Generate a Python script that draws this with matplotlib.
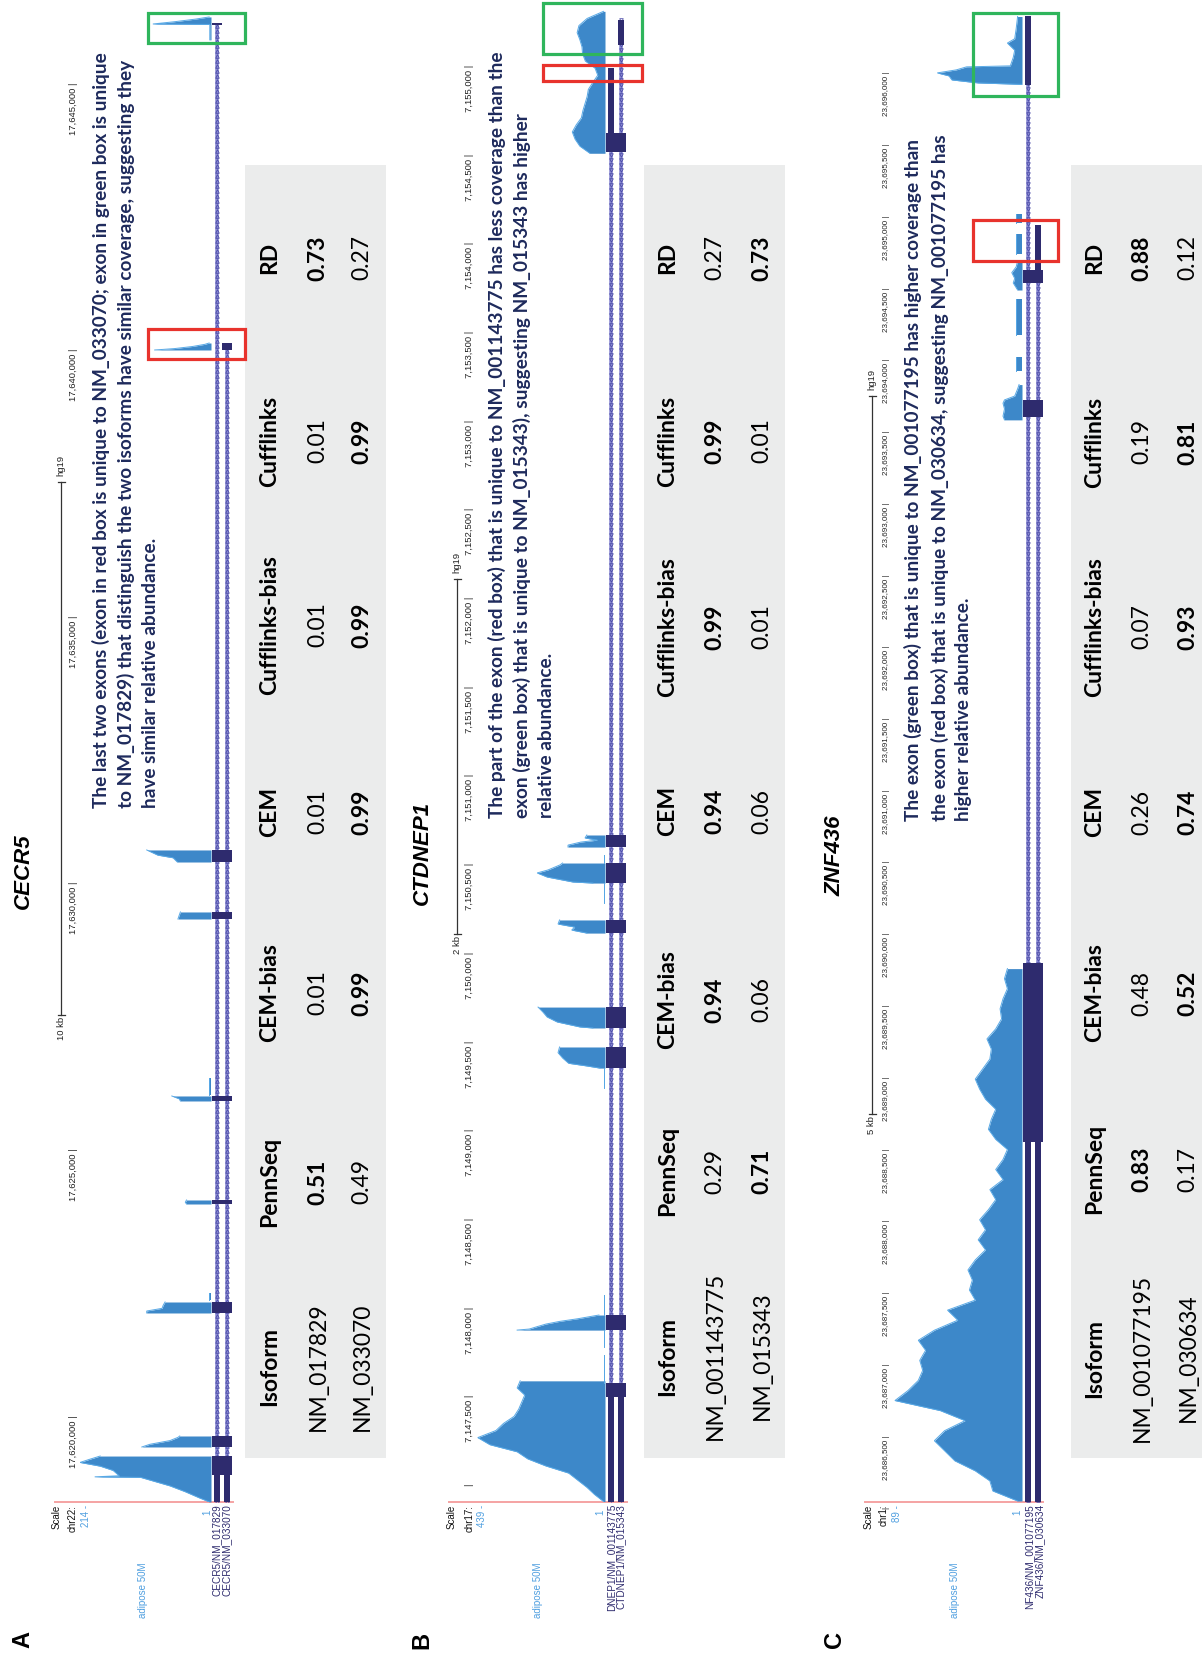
import numpy as np
import matplotlib
matplotlib.use("Agg")
import matplotlib.pyplot as plt
from matplotlib.patches import Rectangle
from matplotlib.transforms import blended_transform_factory as blend, offset_copy

# ----------------------------------------------------------------- data
methods = ["PennSeq", "CEM-bias", "CEM", "Cufflinks-bias", "Cufflinks", "RD"]

# ---- CECR5 (chr22, hg19)
A_gene = "CECR5"
A_view = (17618368, 17646538)
A_ticks = [17620000, 17625000, 17630000, 17635000, 17640000, 17645000]
A_scalebar = (17627500, 17637500, "10 kb")
A_cov_max = 214
A_track_names = ["CECR5/NM_017829", "CECR5/NM_033070"]
A_shared_exons = [(17618875, 17619231), (17619400, 17619606), (17621913, 17622119),
                  (17623957, 17624032), (17625889, 17625983), (17629302, 17629434),
                  (17630371, 17630597)]
A_iso1_tx = (17618300, 17646110)
A_iso1_last = [(17646060, 17646110)]
A_iso1_utr = [(17618300, 17618875)]
A_iso2_tx = (17618300, 17640105)
A_iso2_last = [(17639974, 17640105)]
A_iso2_utr = [(17618300, 17618875)]
A_cov_pos = [
    [17618370, 17618450, 17618560, 17618670, 17618780, 17618830, 17618840, 17618860,
     17618960, 17619040, 17619110, 17619170, 17619230],
    [17619400, 17619450, 17619520, 17619580, 17619606],
    [17621913, 17621950, 17622000, 17622060, 17622119],
    [17622157, 17622288],
    [17623957, 17623990, 17624032],
    [17625889, 17625930, 17625983],
    [17626002, 17626320],
    [17629302, 17629370, 17629434],
    [17630371, 17630450, 17630500, 17630570, 17630597],
    [17639974, 17640000, 17640040, 17640080, 17640105],
    [17645790, 17646080, 17646088, 17646130, 17646180, 17646220],
]
A_cov_val = [
    [3, 20, 42, 67, 100, 115, 190, 150, 160, 181, 214, 198, 181],
    [113, 100, 67, 54, 51],
    [105, 105, 80, 78, 75],
    [3, 3],
    [40, 42, 40],
    [50, 52, 64],
    [3, 3],
    [54, 52, 50],
    [55, 62, 87, 100, 105],
    [92, 60, 30, 10, 3],
    [2, 2, 95, 60, 25, 3],
]
A_red = (17639805, 17640368)
A_green = (17645732, 17646295)
A_isoforms = ["NM_017829", "NM_033070"]
A_estimates = [[0.51, 0.49], [0.01, 0.99], [0.01, 0.99], [0.01, 0.99], [0.01, 0.99], [0.73, 0.27]]
A_note = ["The last two exons (exon in red box is unique to NM_033070; exon in green box is unique",
          "to NM_017829) that distinguish the two isoforms have similar coverage, suggesting they",
          "have similar relative abundance."]

# ---- CTDNEP1 (chr17, hg19)
B_gene = "CTDNEP1"
B_view = (7146897, 7155364)
B_ticks = list(range(7147000, 7155001, 500))
B_scalebar = (7150100, 7152100, "2 kb")
B_cov_max = 439
B_track_names = ["DNEP1/NM_001143775", "CTDNEP1/NM_015343"]
B_shared_exons = [(7147489, 7147568), (7147866, 7147951), (7149343, 7149462), (7149569, 7149687),
                  (7150104, 7150178), (7150386, 7150499), (7150589, 7150657), (7154507, 7154614)]
B_iso1_tx = (7146850, 7154980)
B_iso1_last = []
B_iso1_utr = [(7146850, 7147489), (7154614, 7154980)]
B_iso2_tx = (7146850, 7155251)
B_iso2_last = []
B_iso2_utr = [(7146850, 7147489), (7155110, 7155251)]
B_bin_start = [7146900, 7154500]
B_bin_size = 40
B_bin_val = [
    [5, 35, 60, 90, 120, 195, 255, 290, 380, 420, 360, 335, 300, 285, 275, 265, 290, 280],
    [50, 83, 99, 108, 95, 78, 73, 66, 59, 55, 40, 24, 33, 65, 74, 76, 83, 92, 86, 59, 5],
]
B_cov_pos = [
    [7147866, 7147872, 7147885, 7147900, 7147915, 7147930, 7147951],
    [7149343, 7149355, 7149370, 7149400, 7149430, 7149462],
    [7149569, 7149575, 7149603, 7149631, 7149659, 7149687],
    [7150104, 7150121, 7150138, 7150155, 7150178],
    [7150386, 7150392, 7150420, 7150443, 7150460, 7150488, 7150499],
    [7150589, 7150600, 7150617, 7150628, 7150640, 7150657],
    [7147568, 7147725], [7147771, 7147866], [7147951, 7148064],
    [7149231, 7149343], [7150273, 7150386], [7150499, 7150544],
]
B_cov_val = [
    [290, 250, 225, 195, 150, 90, 20],
    [17, 60, 120, 140, 155, 150],
    [40, 83, 158, 191, 205, 221],
    [60, 110, 100, 155, 150],
    [40, 106, 191, 224, 188, 149, 140],
    [122, 122, 80, 25, 66, 60],
    [4, 4], [4, 4], [4, 4], [4, 4], [4, 4], [4, 4],
]
B_red = (7154907, 7154997)
B_green = (7155059, 7155347)
B_isoforms = ["NM_001143775", "NM_015343"]
B_estimates = [[0.29, 0.71], [0.94, 0.06], [0.94, 0.06], [0.99, 0.01], [0.99, 0.01], [0.27, 0.73]]
B_note = ["The part of the exon (red box) that is unique to NM_001143775 has less coverage than the",
          "exon (green box) that is unique to NM_015343), suggesting NM_015343 has higher",
          "relative abundance."]

# ---- ZNF436 (chr1, hg19)
C_gene = "ZNF436"
C_view = (23686033, 23696500)
C_ticks = list(range(23686000, 23696001, 500))
C_scalebar = (23688737, 23693737, "5 kb")
C_cov_max = 89
C_track_names = ["NF436/NM_001077195", "ZNF436/NM_030634"]
C_shared_exons = [(23688542, 23689789), (23693594, 23693713), (23694528, 23694619)]
C_iso1_tx = (23685950, 23696389)
C_iso1_last = []
C_iso1_utr = [(23685950, 23688542), (23695908, 23696389)]
C_iso2_tx = (23685950, 23694932)
C_iso2_last = []
C_iso2_utr = [(23685950, 23688542), (23694619, 23694932)]
C_bin_start = [23686040]
C_bin_size = 70
C_bin_val = [
    [3, 20, 22, 32, 46, 53, 60, 53, 39, 56, 87, 78, 71, 68, 70, 66, 71, 60, 44, 51,
     32, 36, 34, 37, 32, 25, 30, 25, 29, 23, 18, 22, 13, 18, 13, 10, 18, 23, 21, 18,
     25, 29, 32, 27, 22, 21, 24, 18, 14, 15, 13, 10, 12, 10],
]
C_cov_pos = [
    [23693574, 23693600, 23693650, 23693690, 23693713, 23693740, 23693790, 23693820],
    [23694479, 23694528, 23694560, 23694600, 23694640, 23694682],
    [23695912, 23695922, 23695943, 23695971, 23695992, 23696013, 23696034, 23696041,
     23696100, 23696150, 23696200, 23696230, 23696300, 23696385],
    [23693915, 23694013], [23694166, 23694417], [23694730, 23694870], [23694946, 23695009],
]
C_cov_val = [
    [12, 13, 12, 13, 12, 5, 3, 2],
    [3, 6, 5, 7, 4, 3],
    [0, 30, 48, 50, 58, 45, 38, 8, 6, 5, 10, 5, 4, 3],
    [4, 4], [4, 4], [4, 4], [4, 4],
]
C_red = (23694682, 23694967)
C_green = (23695831, 23696410)
C_isoforms = ["NM_001077195", "NM_030634"]
C_estimates = [[0.83, 0.17], [0.48, 0.52], [0.26, 0.74], [0.07, 0.93], [0.19, 0.81], [0.88, 0.12]]
C_note = ["The exon (green box) that is unique to NM_001077195 has higher coverage than",
          "the exon (red box) that is unique to NM_030634, suggesting NM_001077195 has",
          "higher relative abundance."]

# ----------------------------------------------------------------- style
NAVY = "#2e2b6e"
BLUE = "#3d88c9"
BLUE_EDGE = "#58a9e6"
LBLUE = "#4f9fe0"
INTRON = "#8b8bd3"
CHEV = "#4c4ca8"
PINK = "#f5a3a3"
NOTE = "#1e2a5c"
GRAY = "#ebecec"
RED = "#e8332d"
GREEN = "#2fb55c"
UCSC_FONT = "Liberation Sans"
BODY_FONT = "Lato"

W, H = 1202, 1655
fig = plt.figure(figsize=(W / 100, H / 100), dpi=100)
base = fig.add_axes([0, 0, 1, 1], zorder=0)
base.set_xlim(0, W); base.set_ylim(H, 0); base.axis("off")
over = fig.add_axes([0, 0, 1, 1], zorder=10)
over.set_xlim(0, W); over.set_ylim(H, 0); over.axis("off"); over.set_facecolor("none")


def pixel_axes(x0, x1, y0, y1, z=2):
    ax = fig.add_axes([x0 / W, 1 - y1 / H, (x1 - x0) / W, (y1 - y0) / H], zorder=z)
    ax.set_facecolor("none")
    ax.axis("off")
    return ax


def vtext(x, y, s, ha="center", va="center", transform=None, **kw):
    return base.text(x, y, s, rotation=90, rotation_mode="anchor", ha=ha, va=va,
                     transform=transform if transform is not None else base.transData, **kw)


def bins_to_segments(starts, size, values):
    pos, val = [], []
    for s, v in zip(starts, values):
        pos.append(list(s + size * np.arange(len(v))))
        val.append(v)
    return pos, val


panels = []
for key in "ABC":
    g = globals()
    cov_pos = list(g[key + "_cov_pos"])
    cov_val = list(g[key + "_cov_val"])
    if key + "_bin_start" in g:
        p, v = bins_to_segments(g[key + "_bin_start"], g[key + "_bin_size"], g[key + "_bin_val"])
        cov_pos += p
        cov_val += v
    panels.append(dict(
        key=key, gene=g[key + "_gene"], view=g[key + "_view"], ticks=g[key + "_ticks"],
        scalebar=g[key + "_scalebar"], cov_max=g[key + "_cov_max"],
        track_names=g[key + "_track_names"],
        isoforms=[
            dict(tx=g[key + "_iso1_tx"], thick=g[key + "_shared_exons"] + g[key + "_iso1_last"],
                 thin=g[key + "_iso1_utr"]),
            dict(tx=g[key + "_iso2_tx"], thick=g[key + "_shared_exons"] + g[key + "_iso2_last"],
                 thin=g[key + "_iso2_utr"]),
        ],
        cov_pos=cov_pos, cov_val=cov_val, red=g[key + "_red"], green=g[key + "_green"],
        iso_names=g[key + "_isoforms"], estimates=g[key + "_estimates"], note=g[key + "_note"],
    ))

layouts = {
    "A": dict(cov_x=(80, 211), gene_x=(211, 233), tick_x=73, tick_fs=6.8, bar_x=61,
              scale_x=62, chr_x=74, max_x=86, one_x=207, adi_x=143, name_x=(217, 227),
              pink=(55, 233), chr_label="chr22:", title=(23, 871), letter=(23, 1640),
              box_x=(148, 245), note_x=(101, 126, 151), note_y=808,
              table_x=(245, 386), head_x=270, row_x=(318, 362),
              col_y=[1367, 1182, 993, 812, 625, 441, 258], strand="^"),
    "B": dict(cov_x=(472, 605), gene_x=(605, 627), tick_x=469, tick_fs=6.8, bar_x=457,
              scale_x=457, chr_x=471, max_x=482, one_x=600, adi_x=538, name_x=(611, 621),
              pink=(449, 627), chr_label="chr17:", title=(422, 853), letter=(422, 1640),
              box_x=(543, 642), note_x=(497, 522, 547), note_y=818,
              table_x=(644, 785), head_x=668, row_x=(715, 762),
              col_y=[1356, 1171, 1000, 811, 627, 441, 258], strand="v"),
    "C": dict(cov_x=(892, 1022), gene_x=(1022, 1044), tick_x=886, tick_fs=5.8, bar_x=872,
              scale_x=874, chr_x=885, max_x=897, one_x=1017, adi_x=955, name_x=(1029, 1040),
              pink=(865, 1043), chr_label="chr1:", title=(835, 856), letter=(835, 1640),
              box_x=(973, 1058), note_x=(913, 940, 964), note_y=821,
              table_x=(1071, 1202), head_x=1095, row_x=(1142, 1188),
              col_y=[1358, 1169, 993, 812, 627, 442, 258], strand="v"),
}
TOP, BOTTOM = 0, 1502

for P in panels:
    L = layouts[P["key"]]
    lo, hi = P["view"]

    # coverage track: value grows to the left, genome runs upward
    cov = pixel_axes(L["cov_x"][0], L["cov_x"][1], TOP, BOTTOM)
    cov.set_xlim(P["cov_max"], 0)
    cov.set_ylim(lo, hi)
    for pos, val in zip(P["cov_pos"], P["cov_val"]):
        pos = np.asarray(pos, float)
        val = np.asarray(val, float)
        cov.fill_betweenx(pos, val, 0, color=BLUE, lw=0)
        cov.plot(val, pos, color=BLUE_EDGE, lw=0.7, solid_joinstyle="miter")

    # gene models
    gene = pixel_axes(L["gene_x"][0], L["gene_x"][1], TOP, BOTTOM)
    gene.set_xlim(-0.6, 1.6)
    gene.set_ylim(lo, hi)
    mark_step = (hi - lo) / (BOTTOM - TOP) * 5
    for row, iso in enumerate(P["isoforms"]):
        t0, t1 = iso["tx"]
        gene.plot([row, row], [t0, t1], color=INTRON, lw=2.6, solid_capstyle="butt", zorder=1)
        marks = np.arange(t0, t1, mark_step)
        gene.plot(np.full(marks.size, row), marks, ls="none", marker=L["strand"], ms=2.6,
                  mfc="none", mec=CHEV, mew=0.6, zorder=1.5)
        for s, e in iso["thick"]:
            gene.bar(row, e - s, bottom=s, width=0.95, color=NAVY, lw=0, zorder=3)
        for s, e in iso["thin"]:
            gene.bar(row, e - s, bottom=s, width=0.55, color=NAVY, lw=0, zorder=3)

    # ruler ticks, scale bar
    trans = blend(base.transData, cov.transData)
    for i, t in enumerate(P["ticks"]):
        txt = "|" if (P["key"] != "A" and i == 0) else f"{t:,} |"
        vtext(L["tick_x"], t, txt, ha="right", transform=trans, fontsize=L["tick_fs"],
              family=UCSC_FONT, color="#222222")
    s, e, lab = P["scalebar"]
    bx = L["bar_x"]
    base.plot([bx, bx], [s, e], transform=trans, color="#333333", lw=0.9)
    for p in (s, e):
        base.plot([bx - 3.5, bx + 3.5], [p, p], transform=trans, color="#333333", lw=0.9)
    vtext(bx, s, lab, ha="right", transform=offset_copy(trans, fig=fig, y=-2, units="dots"),
          fontsize=6.8, family=UCSC_FONT, color="#222222")
    vtext(bx, e, "hg19", ha="left", transform=offset_copy(trans, fig=fig, y=6, units="dots"),
          fontsize=6.8, family=UCSC_FONT, color="#222222")

    # track labels
    base.plot(L["pink"], [BOTTOM, BOTTOM], color=PINK, lw=1.4)
    vtext(L["scale_x"] - 5, BOTTOM + 3, "Scale", ha="right", fontsize=7, family=UCSC_FONT, color="#111111")
    vtext(L["chr_x"] - 1, BOTTOM + 3, L["chr_label"], ha="right", fontsize=7, family=UCSC_FONT, color="#111111")
    vtext(L["max_x"], BOTTOM + 3, f"{P['cov_max']} -", ha="right", fontsize=7, family=UCSC_FONT, color=LBLUE)
    vtext(L["one_x"], BOTTOM + 10, "1", fontsize=7, family=UCSC_FONT, color=LBLUE)
    vtext(L["adi_x"], 1590, "adipose 50M", fontsize=7, family=UCSC_FONT, color=LBLUE)
    for nx, name in zip(L["name_x"], P["track_names"]):
        vtext(nx, BOTTOM + 2, name, ha="right", fontsize=7.2, family=UCSC_FONT, color=NAVY)

    # highlight boxes
    btrans = blend(over.transData, cov.transData)
    bx0, bx1 = L["box_x"]
    for (r0, r1), col in ((P["red"], RED), (P["green"], GREEN)):
        over.add_patch(Rectangle((bx0, r0), bx1 - bx0, r1 - r0, transform=btrans, fill=False,
                                 ec=col, lw=2.3, clip_on=False))

    # titles and notes
    vtext(*L["title"], P["gene"], fontsize=16, weight="bold", style="italic", family=UCSC_FONT)
    vtext(*L["letter"], P["key"], fontsize=17, weight="bold", family=UCSC_FONT)
    for nx, line in zip(L["note_x"], P["note"]):
        vtext(nx, L["note_y"], line, ha="left", fontsize=13.7, weight="bold", family=BODY_FONT, color=NOTE)

    # estimates table
    tx0, tx1 = L["table_x"]
    base.add_patch(Rectangle((tx0, 165), tx1 - tx0, 1458 - 165, color=GRAY, lw=0, zorder=0))
    headers = ["Isoform"] + methods
    for cy, head in zip(L["col_y"], headers):
        vtext(L["head_x"], cy, head, fontsize=16.5, weight="bold", family=BODY_FONT, color="black")
    for r, rx in enumerate(L["row_x"]):
        vtext(rx, L["col_y"][0], P["iso_names"][r], fontsize=16.5, family=BODY_FONT, color="black")
        for cy, est in zip(L["col_y"][1:], P["estimates"]):
            v = est[r]
            vtext(rx, cy, f"{v:.2f}", fontsize=16.5, family=BODY_FONT, color="black",
                  weight="bold" if v == max(est) else "normal")

fig.savefig("out.png", dpi=100)
